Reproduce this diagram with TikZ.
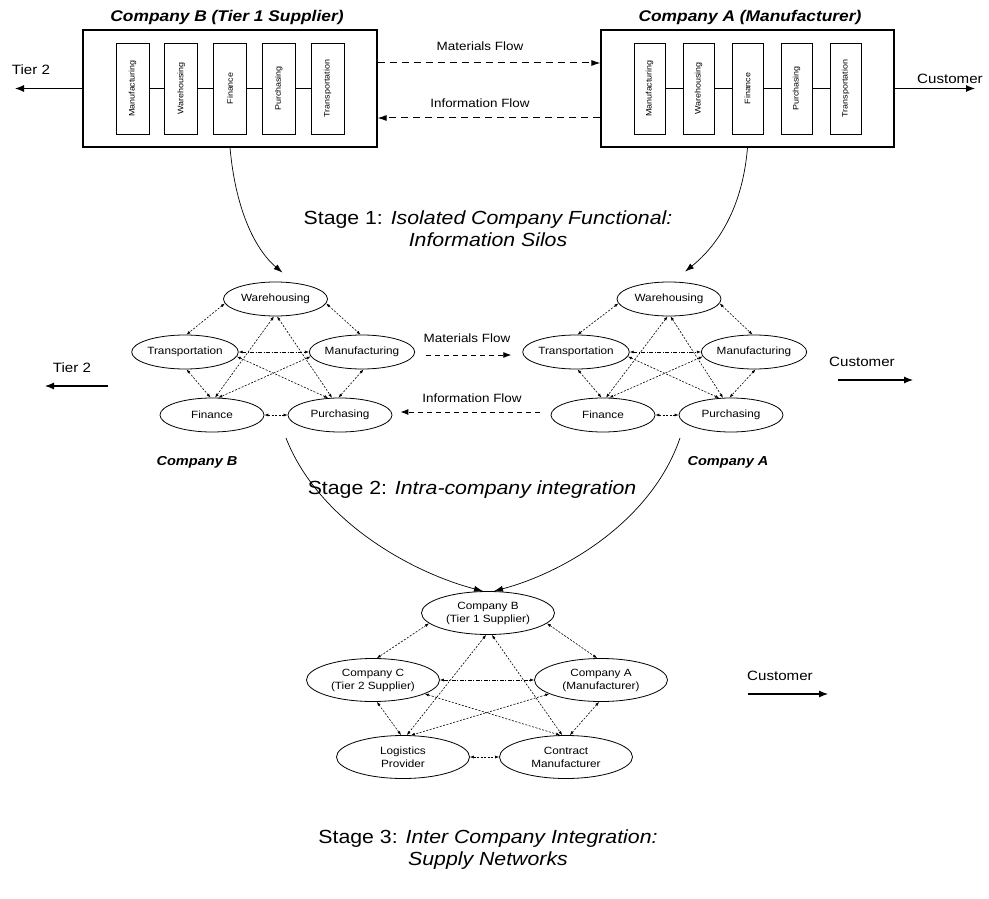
\documentclass[tikz,border=0pt]{standalone}
\usepackage{fontspec}
\setmainfont{Liberation Sans}[FakeStretch=1.12]
\usetikzlibrary{arrows.meta,shapes.geometric}
\begin{document}
\begin{tikzpicture}[x=1pt,y=-1pt,
  company/.style={draw,line width=1.1pt,minimum width=294pt,minimum height=117pt,inner sep=0pt},
  func/.style={draw,line width=0.9pt,rotate=90,minimum width=91pt,minimum height=33pt,inner sep=0pt,font=\fontsize{8}{9}\selectfont},
  funcA/.style={func,minimum height=31pt},
  title/.style={font=\fontsize{15.5}{18}\selectfont\bfseries\itshape},
  subtitle/.style={font=\fontsize{13}{15}\selectfont\bfseries\itshape},
  lab/.style={font=\fontsize{12}{14}\selectfont},
  big/.style={font=\fontsize{13.5}{16}\selectfont},
  stage/.style={font=\fontsize{19}{22}\selectfont,align=center},
  ell/.style={draw,ellipse,line width=0.8pt,minimum width=104pt,minimum height=34pt,inner sep=0pt,font=\fontsize{10.5}{12}\selectfont},
  ellc/.style={ell,minimum width=133pt,minimum height=43pt,align=center,font=\fontsize{10.5}{13}\selectfont},
  link/.style={line width=0.6pt,dash pattern=on 2pt off 1.5pt,{Latex[length=4pt,width=3pt]}-{Latex[length=4pt,width=3pt]}},
  dlink/.style={link,dash pattern=on 4pt off 1.5pt on 1pt off 1.5pt},
  flow/.style={line width=1pt,dash pattern=on 7pt off 5pt,-{Latex[length=9pt,width=6pt]}},
  flowb/.style={line width=0.9pt,dash pattern=on 5pt off 4pt,-{Latex[length=8pt,width=6pt]}},
  solidarrow/.style={line width=1.1pt,-{Latex[length=9pt,width=7pt]}},
  curve/.style={line width=0.7pt,-{Latex[length=9pt,width=6pt]}},
  conn/.style={line width=0.8pt}
]
\useasboundingbox (0,0) rectangle (989,899);

% ---------- Stage 1 ----------
\node[company] (B) at (230,88.5) {};
\node[company,minimum width=293pt] (A) at (747.5,88.5) {};
\node[title] (tB) at (227,17) {Company B (Tier 1 Supplier)};
\node[title] (tA) at (750,17) {Company A (Manufacturer)};
\foreach \n/\x/\t in {1/132.5/Manufacturing,2/181.25/Warehousing,3/230/Finance,4/278.75/Purchasing,5/327.5/Transportation}
  \node[func] (b\n) at (\x,88.5) {\t};
\foreach \n/\x/\t in {1/649.5/Manufacturing,2/698.5/Warehousing,3/747.5/Finance,4/796.5/Purchasing,5/845.5/Transportation}
  \node[funcA] (a\n) at (\x,88.5) {\t};
\draw[conn] (b1)--(b2) (b2)--(b3) (b3)--(b4) (b4)--(b5);
\draw[conn] (a1)--(a2) (a2)--(a3) (a3)--(a4) (a4)--(a5);

\coordinate (t2end) at (15,88.5);
\draw[solidarrow] (B.west) -- (t2end);
\node[big] (t2lab) at (31,70) {Tier 2};
\coordinate (c1end) at (975,88.5);
\draw[solidarrow] (A.east) -- (c1end);
\node[big] (c1lab) at (950,79) {Customer};

\draw[flow] ([yshift=25.5pt]B.east) -- ([yshift=25.5pt]A.west);
\draw[flow] ([yshift=-29.5pt]A.west) -- ([yshift=-29.5pt]B.east);
\node[lab] (mf1) at (480,46) {Materials Flow};
\node[lab] (if1) at (480,103) {Information Flow};

\node[stage] (s1) at (488,229) {Stage 1: \textit{Isolated Company Functional:}\\\textit{Information Silos}};

% ---------- Stage 2 ----------
\node[ell] (lW) at (275.5,299) {Warehousing};
\node[ell] (lT) at (185,352) {Transportation};
\node[ell] (lM) at (362,352) {Manufacturing};
\node[ell] (lF) at (212,415) {Finance};
\node[ell] (lP) at (340,415) {Purchasing};
\node[ell] (rW) at (669,299) {Warehousing};
\node[ell] (rT) at (576,352) {Transportation};
\node[ell] (rM) at (754,352) {Manufacturing};
\node[ell] (rF) at (603,415) {Finance};
\node[ell] (rP) at (731,415) {Purchasing};

\foreach \p in {l,r}{
  \draw[link] (\p W.185) -- (\p T.85);
  \draw[link] (\p W.355) -- (\p M.95);
  \draw[link] (\p W.265) -- (\p F.80);
  \draw[link] (\p W.275) -- (\p P.115);
  \draw[dlink] (\p T.east) -- (\p M.west);
  \draw[link] (\p T.275) -- (\p F.95);
  \draw[link] (\p T.355) -- (\p P.125);
  \draw[link] (\p M.185) -- (\p F.70);
  \draw[link] (\p M.275) -- (\p P.95);
  \draw[link] (\p F.east) -- (\p P.west);
}

\draw[curve] (B.south) .. controls (236,215) and (258,252) .. ([shift={(7pt,9pt)}]lW.north);
\draw[curve] (A.south) .. controls (742,215) and (712,250) .. ([shift={(16pt,10pt)}]rW.north);

\draw[flowb] ([shift={(11pt,-3pt)}]lM.east) -- ([shift={(-11pt,-3pt)}]rT.west);
\draw[flowb] ([shift={(-11pt,3pt)}]rF.west) -- ([shift={(8pt,3pt)}]lP.east);
\node[lab] (mf2) at (467,338) {Materials Flow};
\node[lab] (if2) at (472,398) {Information Flow};

\node[big] (t2b) at (72,368) {Tier 2};
\coordinate (t2bs) at (108,386);
\coordinate (t2be) at (45,386);
\draw[solidarrow] (t2bs) -- (t2be);
\node[big] (c2lab) at (862,362) {Customer};
\coordinate (c2s) at (838,380);
\coordinate (c2e) at (913,380);
\draw[solidarrow] (c2s) -- (c2e);

\node[subtitle] (cb) at (197,462) {Company B};
\node[subtitle] (ca) at (728,462) {Company A};

\node[stage] (s2) at (472,490) {Stage 2: \textit{Intra-company integration}};

% ---------- Stage 3 ----------
\node[ellc] (B3) at (488,613) {Company B\\(Tier 1 Supplier)};
\node[ellc] (C3) at (373,680) {Company C\\(Tier 2 Supplier)};
\node[ellc] (A3) at (601,680) {Company A\\(Manufacturer)};
\node[ellc] (L3) at (403,757) {Logistics\\Provider};
\node[ellc] (M3) at (566,757) {Contract\\Manufacturer};

\coordinate (c2l) at (286,438);
\coordinate (c2r) at (680,438);
\draw[curve] (c2l) .. controls (318,520) and (410,572) .. ([xshift=-5pt]B3.north);
\draw[curve] (c2r) .. controls (652,520) and (566,572) .. ([xshift=6pt]B3.north);

\draw[link] (B3.190) -- (C3.80);
\draw[link] (B3.350) -- (A3.100);
\draw[link] (B3.265) -- (L3.80);
\draw[link] (B3.280) -- (M3.100);
\draw[dlink] (C3.east) -- (A3.west);
\draw[link] (C3.280) -- (L3.95);
\draw[link] (C3.345) -- (M3.105);
\draw[link] (A3.195) -- (L3.70);
\draw[link] (A3.265) -- (M3.80);
\draw[link] (L3.east) -- (M3.west);

\node[big] (c3lab) at (780,676) {Customer};
\coordinate (c3s) at (748,694);
\coordinate (c3e) at (828,694);
\draw[solidarrow] (c3s) -- (c3e);

\node[stage] (s3) at (488,850) {Stage 3: \textit{Inter Company Integration:}\\\textit{Supply Networks}};
\end{tikzpicture}
\end{document}
